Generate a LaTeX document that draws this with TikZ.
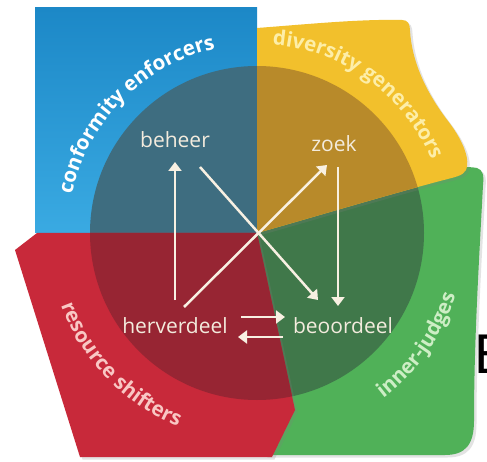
\documentclass[tikz,border=0pt]{standalone}
\usepackage{fontspec}
\setmainfont{Open Sans}
\newfontfamily\efont{Liberation Sans}
\usetikzlibrary{decorations.text, arrows.meta, shadows}
\definecolor{bluetop}{HTML}{1C88C7}
\definecolor{bluebot}{HTML}{3AAAE2}
\definecolor{bluedk}{HTML}{3E6D80}
\definecolor{yel}{HTML}{F2C02C}
\definecolor{yeldk}{HTML}{B88A2A}
\definecolor{grn}{HTML}{50B158}
\definecolor{grndk}{HTML}{40784A}
\definecolor{rd}{HTML}{C8293A}
\definecolor{rddk}{HTML}{972533}
\definecolor{labc}{HTML}{F3EBDD}
\definecolor{arrc}{HTML}{F8F0E2}
\definecolor{divc}{HTML}{FDEEA8}
\definecolor{innc}{HTML}{CDEEC5}
\definecolor{resc}{HTML}{F9C7C4}
\newcommand\curvefont{\fontsize{20.5}{20.5}\selectfont\bfseries}
\def\greenpath{(257,228) -- (420,290) .. controls (440,294) and (468,295) .. (477,293) .. controls (483,291) and (484,286) .. (483,276) .. controls (479,200) and (474,120) .. (474,40) .. controls (474,16) and (465,6) .. (445,6) -- (265,6) -- cycle}
\def\bluepath{(35,228) rectangle (257,453)}
\def\yelpath{(257,228) -- (257,433) .. controls (310,437) and (360,442) .. (402,441) .. controls (408,441) and (410,437) .. (410,430) .. controls (412,400) and (425,370) .. (448,340) .. controls (465,318) and (470,300) .. (466,291) .. controls (463,285) and (455,284) .. (440,280) .. controls (380,264) and (300,240) .. (257,228) -- cycle}
\def\redpath{(15,211) -- (37,228) -- (257,228) -- (295,51) -- (272,4) -- (80,4) -- cycle}
\begin{document}
\begin{tikzpicture}[x=1pt,y=1pt,
  lab/.style={font=\fontsize{21}{21}\selectfont, text=labc, inner sep=2pt, text height=15pt, text depth=4pt, anchor=base},
  arr/.style={draw=arrc, line width=2.5pt, -{Triangle[width=13pt,length=9pt]}},
  shad/.style={drop shadow={opacity=0.22, shadow xshift=2.5pt, shadow yshift=-2.5pt}}]
\useasboundingbox (0,0) rectangle (487,461);
\fill[white] (0,0) rectangle (487,461);
\coordinate (C) at (257,228);
% green
\fill[grn, shad] \greenpath;
\begin{scope}\clip \greenpath; \fill[grndk] (C) circle[radius=167]; \end{scope}
% blue
\shade[top color=bluetop, bottom color=bluebot] \bluepath;
\begin{scope}\clip \bluepath; \fill[bluedk] (C) circle[radius=167]; \end{scope}
% yellow
\fill[yel, shad] \yelpath;
\begin{scope}\clip \yelpath; \fill[yeldk] (C) circle[radius=167]; \end{scope}
% red
\fill[rd, shad] \redpath;
\begin{scope}\clip \redpath; \fill[rddk] (C) circle[radius=167]; \end{scope}
% curved texts
\path[decorate, decoration={text along path, text align=center, text color=white, text={|\curvefont|conformity enforcers}}]
  (C) ++(185.5:189) arc[start angle=185.5, end angle=85.5, radius=189];
\path[decorate, decoration={text along path, text align=center, text color=divc, text={|\curvefont|diversity generators}}]
  (C) ++(104:189) arc[start angle=104, end angle=4, radius=189];
\path[decorate, decoration={text along path, text align=center, text color=innc, text={|\curvefont|inner-judges}}]
  (C) ++(-85:208) arc[start angle=-85, end angle=15, radius=208];
\path[decorate, decoration={text along path, text align=center, text color=resc, text={|\curvefont|resource shifters}}]
  (C) ++(174:209) arc[start angle=174, end angle=274, radius=209];
% labels
\node[lab] (beheer) at (175,313) {beheer};
\node[lab] (zoek) at (334,309) {zoek};
\node[lab] (herverdeel) at (175,128) {herverdeel};
\node[lab] (beoordeel) at (343,128) {beoordeel};
% arrows
\draw[arr] ([shift={(0,27.5)}]herverdeel.center) -- ([shift={(0,-19.5)}]beheer.center);
\draw[arr] ([shift={(25,-24.5)}]beheer.center) -- ([shift={(-25,27.5)}]beoordeel.center);
\draw[arr] ([shift={(9,20.5)}]herverdeel.center) -- ([shift={(-7,-18.5)}]zoek.center);
\draw[arr] ([shift={(4,-20.5)}]zoek.center) -- ([shift={(-5,21.5)}]beoordeel.center);
\draw[arr] ([shift={(66,10.5)}]herverdeel.center) -- ([shift={(-58,10.5)}]beoordeel.center);
\draw[arr] ([shift={(-60,-9.5)}]beoordeel.center) -- ([shift={(63,-9.5)}]herverdeel.center);
% cropped letter at the right edge
\node[anchor=base west, font=\efont\fontsize{56}{56}\selectfont, inner sep=0pt, text=black] (E) at (474.5,88) {E};
\end{tikzpicture}
\end{document}
